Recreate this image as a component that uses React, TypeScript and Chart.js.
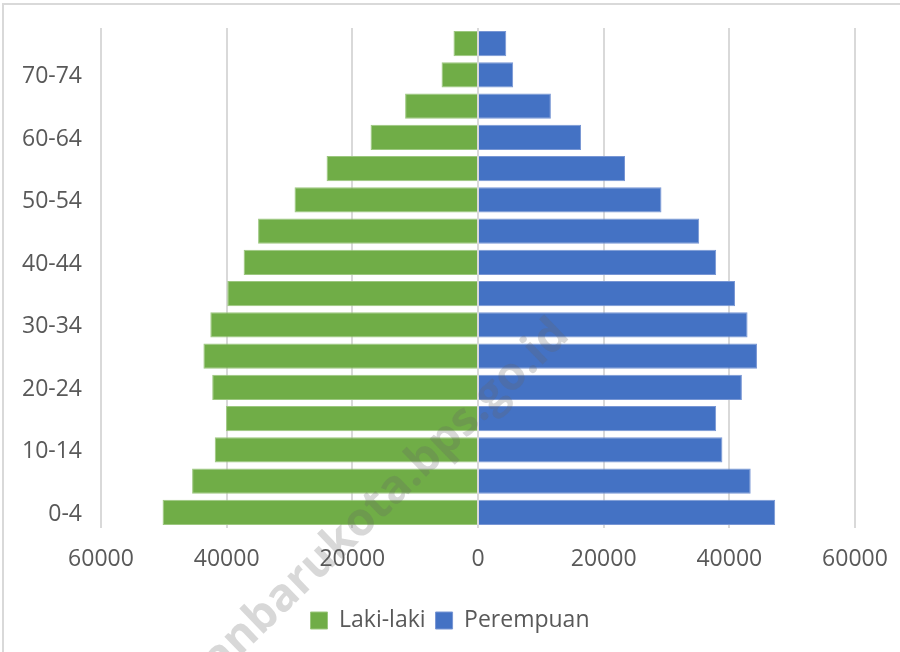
import React, { useEffect, useRef } from "react";
import { Chart, registerables } from "chart.js";

Chart.register(...registerables);

const ageGroups = [
  "0-4", "5-9", "10-14", "15-19", "20-24", "25-29", "30-34", "35-39",
  "40-44", "45-49", "50-54", "55-59", "60-64", "65-69", "70-74", "75+",
];

const lakiLaki = [
  50200, 45500, 41900, 40100, 42300, 43700, 42600, 39900,
  37300, 35000, 29200, 24100, 17100, 11600, 5800, 3900,
];

const perempuan = [
  47300, 43400, 38900, 37900, 42000, 44400, 42900, 40900,
  37900, 35200, 29200, 23400, 16400, 11600, 5600, 4500,
];

const xTicks = [-60000, -40000, -20000, 0, 20000, 40000, 60000];

const seriesNames = ["Laki-laki", "Perempuan"];
const watermark = "pekanbarukota.bps.go.id";

const FONT = "'Open Sans', 'DejaVu Sans', sans-serif";
const TEXT = "#595959";
const GRID = "#d9d9d9";

export default function App() {
  const ref = useRef<HTMLCanvasElement | null>(null);

  useEffect(() => {
    const canvas = ref.current;
    if (!canvas) return;

    const framePlugin = {
      id: "frame",
      beforeDraw(chart: any) {
        const ctx = chart.ctx;
        ctx.save();
        ctx.fillStyle = "#ffffff";
        ctx.fillRect(0, 0, chart.width, chart.height);
        ctx.strokeStyle = GRID;
        ctx.lineWidth = 2;
        ctx.strokeRect(3, 4, chart.width + 20, chart.height + 20);
        ctx.restore();
      },
      afterDatasetsDraw(chart: any) {
        const ctx = chart.ctx;
        const x0 = chart.scales.x.getPixelForValue(0);
        const area = chart.chartArea;
        ctx.save();
        ctx.strokeStyle = GRID;
        ctx.lineWidth = 2;
        ctx.beginPath();
        ctx.moveTo(x0, area.top);
        ctx.lineTo(x0, area.bottom);
        ctx.stroke();
        ctx.restore();
      },
      afterDraw(chart: any) {
        const ctx = chart.ctx;
        ctx.save();
        ctx.translate(571, 337);
        ctx.rotate(-Math.PI * 44 / 180);
        ctx.font = "700 46px " + FONT;
        ctx.fillStyle = "rgba(100,100,100,0.25)";
        ctx.textAlign = "right";
        ctx.textBaseline = "alphabetic";
        ctx.fillText(watermark, 0, 0);
        ctx.restore();
      },
    };

    const chart = new Chart(canvas, {
      type: "bar",
      data: {
        labels: ageGroups,
        datasets: [
          {
            label: seriesNames[0],
            data: lakiLaki.map((v) => -v),
            backgroundColor: "#70AD47",
            borderColor: "#9cc77f",
            borderWidth: 1,
            categoryPercentage: 1,
            barPercentage: 0.81,
          },
          {
            label: seriesNames[1],
            data: perempuan,
            backgroundColor: "#4472C4",
            borderColor: "#7896d4",
            borderWidth: 1,
            categoryPercentage: 1,
            barPercentage: 0.81,
          },
        ],
      },
      options: {
        indexAxis: "y",
        responsive: false,
        animation: false,
        layout: { padding: { top: 28, left: 0, right: 0, bottom: 10 } },
        scales: {
          x: {
            stacked: true,
            min: -60000,
            max: 60000,
            afterBuildTicks: (scale: any) => {
              scale.ticks = xTicks.map((v) => ({ value: v }));
            },
            afterFit: (scale: any) => {
              scale.height = 71;
            },
            grid: {
              color: GRID,
              lineWidth: 2,
              drawTicks: true,
              tickLength: 6,
              tickColor: "rgba(0,0,0,0)",
            },
            border: { display: false },
            ticks: {
              padding: 12,
              color: TEXT,
              font: { family: FONT, size: 23 },
              callback: (v: any) => String(Math.abs(Number(v))),
            },
          },
          y: {
            stacked: true,
            reverse: true,
            afterFit: (scale: any) => {
              scale.width = 101;
            },
            grid: {
              display: false,
              drawTicks: true,
              tickLength: 14,
              tickColor: "rgba(0,0,0,0)",
            },
            border: { display: false },
            ticks: {
              autoSkip: false,
              padding: 5,
              labelOffset: 2,
              color: TEXT,
              font: { family: FONT, size: 23 },
              callback: (_v: any, i: number) => (i % 2 === 0 ? ageGroups[i] : null),
            },
          },
          yRight: {
            type: "category",
            position: "right",
            afterFit: (scale: any) => {
              scale.width = 45;
            },
            grid: { display: false, drawTicks: false },
            border: { display: false },
            ticks: { display: false },
          },
        },
        plugins: {
          legend: {
            position: "bottom",
            labels: {
              boxWidth: 17,
              boxHeight: 17,
              padding: 10,
              color: TEXT,
              font: { family: FONT, size: 23 },
            },
          },
          tooltip: { enabled: false },
        },
      },
      plugins: [framePlugin],
    });

    return () => chart.destroy();
  }, []);

  return (
    <div style={{ position: "absolute", left: 0, top: 0, width: 900, height: 652 }}>
      <canvas ref={ref} width={900} height={652} />
    </div>
  );
}
